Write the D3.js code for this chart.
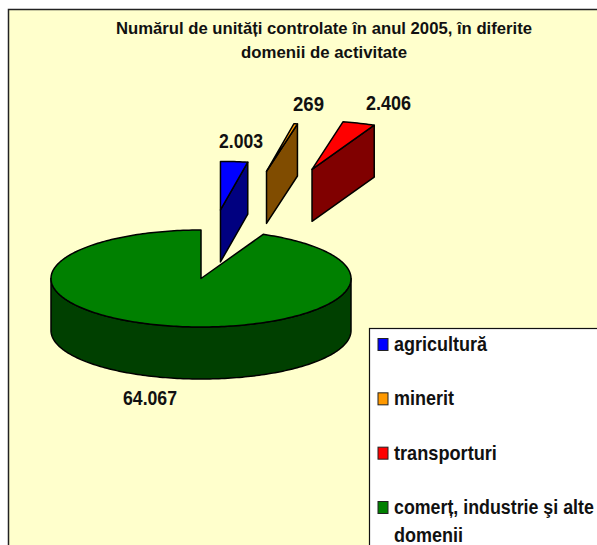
<!DOCTYPE html>
<html>
<head>
<meta charset="utf-8">
<script src="https://cdn.jsdelivr.net/npm/d3@7"></script>
<style>
  html, body { margin: 0; padding: 0; background: #fff; }
  svg { display: block; }
  text { font-family: "Liberation Sans", Arial, sans-serif; font-weight: bold; fill: #111; }
</style>
</head>
<body>
<script>
const categories = ["agricultură", "minerit", "transporturi", "comerț, industrie şi alte domenii"];
const values = [2003, 269, 2406, 64067];
const explode = [1.42, 2.25, 2.37, 0];
const topColors = ["#0000ff", "#ff9900", "#ff0000", "#008000"];
const sideColors = ["#000080", "#804c00", "#800000", "#004000"];
const titleLines = ["Numărul de unități controlate în anul 2005, în diferite", "domenii de activitate"];
const legendLines = [["agricultură"], ["minerit"], ["transporturi"], ["comerț, industrie şi alte", "domenii"]];

const width = 597, height = 545;
const cx = 201, cy = 278.5, rx = 150, ry = 48.5, depth = 52;

const svg = d3.select("body").append("svg")
  .attr("width", width)
  .attr("height", height);

// plot area
svg.append("rect")
  .attr("x", 8.5).attr("y", 9.5)
  .attr("width", width).attr("height", height)
  .attr("fill", "#ffffcc")
  .attr("stroke", "#222")
  .attr("stroke-width", 1.5);

svg.selectAll(".title")
  .data(titleLines)
  .join("text")
  .attr("class", "title")
  .attr("x", 324)
  .attr("y", (d, i) => 34 + i * 24)
  .attr("text-anchor", "middle")
  .attr("font-size", 17)
  .attr("textLength", (d, i) => [416, 166][i])
  .attr("lengthAdjust", "spacingAndGlyphs")
  .text(d => d);

const pie = d3.pie().sort(null)(values);
const formatLabel = d3.formatLocale({ decimal: ",", thousands: ".", grouping: [3], currency: ["", ""] }).format(",d");
const line = d3.line();

// point on the squashed pie, angle 0 at the top, going clockwise
function point(a, z, ox, oy, r) {
  return [cx + ox + r * rx * Math.sin(a), cy + oy - r * ry * Math.cos(a) + z];
}

function arcAngles(a0, a1) {
  const n = Math.max(2, Math.ceil((a1 - a0) / 0.02));
  return d3.range(n + 1).map(i => a0 + (a1 - a0) * i / n);
}

svg.selectAll(".slice")
  .data(pie)
  .join("g")
  .attr("class", "slice")
  .each(function (d, i) {
    const g = d3.select(this);
    const mid = (d.startAngle + d.endAngle) / 2;
    const ox = explode[i] * rx * Math.sin(mid);
    const oy = -explode[i] * ry * Math.cos(mid);

    // side wall
    let side;
    if (explode[i] > 0) {
      side = [point(0, 0, ox, oy, 0), point(d.endAngle, 0, ox, oy, 1), point(d.endAngle, depth, ox, oy, 1), point(0, depth, ox, oy, 0)];
    } else {
      const front = arcAngles(Math.PI / 2, Math.PI * 1.5);
      side = front.map(a => point(a, 0, ox, oy, 1)).concat(front.slice().reverse().map(a => point(a, depth, ox, oy, 1)));
    }
    g.append("path")
      .attr("d", line(side) + "Z")
      .attr("fill", sideColors[i])
      .attr("stroke", "#000")
      .attr("stroke-width", 1.5)
      .attr("stroke-linejoin", "round");

    // top face
    const top = [point(0, 0, ox, oy, 0)].concat(arcAngles(d.startAngle, d.endAngle).map(a => point(a, 0, ox, oy, 1)));
    g.append("path")
      .attr("d", line(top) + "Z")
      .attr("fill", topColors[i])
      .attr("stroke", "#000")
      .attr("stroke-width", 1.5)
      .attr("stroke-linejoin", "round");
  });

const labelPos = [[241, 148], [308.5, 111], [388.5, 110], [150, 405]];
svg.selectAll(".value")
  .data(values)
  .join("text")
  .attr("class", "value")
  .attr("x", (d, i) => labelPos[i][0])
  .attr("y", (d, i) => labelPos[i][1])
  .attr("text-anchor", "middle")
  .attr("font-size", 20)
  .attr("textLength", (d, i) => [44, 31, 45, 54][i])
  .attr("lengthAdjust", "spacingAndGlyphs")
  .text(d => formatLabel(d));

// legend
svg.append("rect")
  .attr("x", 369.5).attr("y", 328.5)
  .attr("width", 240).attr("height", 240)
  .attr("fill", "#fff")
  .attr("stroke", "#111")
  .attr("stroke-width", 1.2);

const legendY = d3.scalePoint().domain(categories).range([351, 514]);
const legend = svg.selectAll(".legend")
  .data(categories)
  .join("g")
  .attr("class", "legend")
  .attr("transform", d => `translate(0,${legendY(d)})`);

legend.append("rect")
  .attr("x", 378).attr("y", -12.5)
  .attr("width", 10).attr("height", 12)
  .attr("fill", (d, i) => topColors[i])
  .attr("stroke", "#222");

// narrowed with a transform, the reference type is condensed
const legendWidths = { "agricultură": 93, "minerit": 60, "transporturi": 103, "comerț, industrie şi alte": 200, "domenii": 69 };
legend.selectAll("text")
  .data((d, i) => legendLines[i])
  .join("text")
  .attr("font-size", 20)
  .text(d => d)
  .attr("transform", function (d, i) {
    const sx = legendWidths[d] / this.getComputedTextLength();
    return `translate(394,${i * 28}) scale(${sx},1)`;
  });
</script>
</body>
</html>
